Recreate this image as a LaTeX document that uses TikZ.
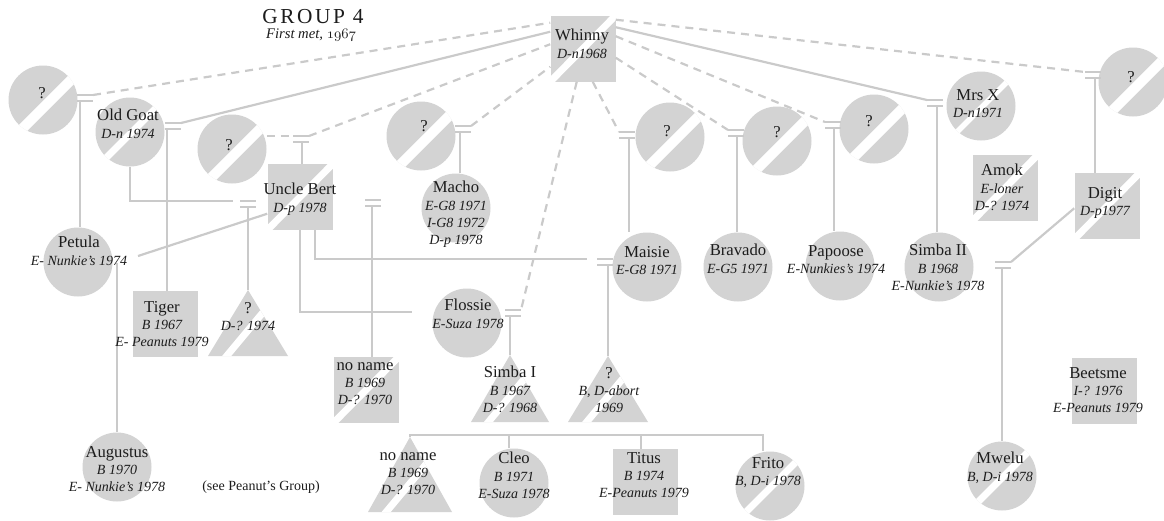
\documentclass[tikz,border=0pt]{standalone}
\usepackage{fontspec}
\setmainfont{Liberation Serif}
\newfontfamily\titlefont{Liberation Serif}[LetterSpace=12]
\definecolor{shp}{RGB}{211,211,211}
\definecolor{lin}{RGB}{202,202,202}
\definecolor{txt}{RGB}{28,28,28}
\newcommand\nm[1]{{\fontsize{12.5}{13}\selectfont\upshape #1}}
\newcommand\osf[1]{{\fontencoding{OML}\fontfamily{cmm}\fontseries{m}\fontshape{it}\selectfont #1}}
\tikzset{
  conn/.style={draw=lin, line width=1.65pt},
  dconn/.style={conn, dash pattern=on 6pt off 4.5pt},
  fem/.style={circle, fill=shp, minimum size=51.75pt, inner sep=0pt},
  mal/.style={rectangle, fill=shp, minimum width=48.75pt, minimum height=49.5pt, inner sep=0pt},
  band/.style={white, line width=5.25pt},
  lbl/.style={anchor=north, align=center, inner sep=0pt, text=txt, font=\fontsize{10.5}{13}\selectfont\itshape},
}
% dead female: name x y bandwidth(pt) offset
\newcommand\FemD[5]{%
  \node[fem] (#1) at (#2,#3) {};
  \begin{scope}
    \clip (#2,#3) circle[radius=26pt];
    \draw[white, line width=#4pt] (#2+#5-50,#3+#5+50) -- (#2+#5+50,#3+#5-50);
  \end{scope}}
% dead male: name x y
\newcommand\MalD[3]{%
  \node[mal] (#1) at (#2,#3) {};
  \begin{scope}
    \clip (#1.south west) rectangle (#1.north east);
    \draw[band] ([shift={(-10,10)}]#1.south west) -- ([shift={(10,-10)}]#1.north east);
  \end{scope}}
% dead, sex unknown: name apexx apexy height halfbase
\newcommand\TriD[5]{%
  \coordinate (#1) at (#2,#3);
  \fill[shp] (#2,#3) -- (#2-#5,#3+#4) -- (#2+#5,#3+#4) -- cycle;
  \begin{scope}
    \clip (#2,#3) -- (#2-#5,#3+#4) -- (#2+#5,#3+#4) -- cycle;
    \draw[band] (#2-3-40,#3+#4*2/3+48) -- (#2-3+40,#3+#4*2/3-48);
  \end{scope}}
% mating symbol: name xleft ytop xdown
\newcommand\marr[4]{%
  \coordinate (#1-l) at (#2,#3);
  \coordinate (#1-r) at (#2+16,#3);
  \coordinate (#1-d) at (#4,#3+6);
  \draw[conn] (#2,#3) -- (#2+16,#3) (#2,#3+6) -- (#2+16,#3+6);}
\begin{document}
\begin{tikzpicture}[x=0.75pt, y=-0.75pt]
\useasboundingbox (0,0) rectangle (1164,521);

% ---------- title
\node[font=\titlefont\fontsize{16}{18}\selectfont, text=txt, inner sep=0pt] (title) at (313,17) {GROUP 4};
\node[font=\fontsize{11}{13}\selectfont\itshape, text=txt, inner sep=0pt] (subtitle) at (311,35) {First met, \osf{1967}};

% ---------- individuals (shapes)
\MalD{whinny}{583}{48.5}
\FemD{q1}{43}{100}{7.5}{4}
\FemD{oldgoat}{130}{132}{5.25}{1}
\FemD{q2}{232}{149}{7.5}{4}
\MalD{ub}{300}{197}
\FemD{q3}{421}{136}{7.5}{4}
\node[fem] (macho) at (456,208) {};
\FemD{q4}{670}{137}{7.5}{4}
\FemD{q5}{777}{141}{7.5}{4}
\FemD{q6}{874}{129}{7.5}{4}
\FemD{mrsx}{981}{106}{4}{1}
\FemD{q7}{1133}{82}{7.5}{4}
\MalD{amok}{1005}{188}
\MalD{digit}{1107}{206}
\node[fem] (petula) at (78,262) {};
\node[mal] (tiger) at (165,324) {};
\TriD{qt}{248}{290}{66}{40}
\MalD{noname1}{366}{390}
\node[fem] (maisie) at (647,267) {};
\node[fem] (bravado) at (738,267) {};
\node[fem] (papoose) at (840,266) {};
\node[fem] (simba2) at (939,267) {};
\node[fem] (flossie) at (467,323) {};
\TriD{s1}{510}{355}{67}{39}
\TriD{qa}{608}{356}{66}{40}
\node[fem] (augustus) at (117,467) {};
\TriD{nn2}{410}{437}{75}{42}
\node[fem] (cleo) at (514,483) {};
\node[mal] (titus) at (645,482) {};
\FemD{frito}{770}{486}{5.25}{1}
\FemD{mwelu}{1002}{476}{5.25}{1}
\node[mal] (beetsme) at (1104,391) {};

% ---------- mating symbols
\marr{m1}{77}{95}{80}
\marr{m2}{165}{123}{167}
\marr{m3}{293}{136}{302}
\marr{m4}{240}{201}{248}
\marr{m6}{597}{259}{608}
\marr{mn}{365}{200}{372}
\marr{m8}{455}{126}{460}
\marr{m9}{505}{310}{510}
\marr{m10}{619}{132}{629}
\marr{m11}{728}{130}{737}
\marr{m12}{825}{122}{834}
\marr{m13}{927}{100}{937}
\marr{m14}{1085}{72}{1095}
\marr{m15}{995}{262}{1002}

\coordinate (pj) at (138,256);
\coordinate (pv) at (117,263);
\coordinate (fj) at (412,312);
\coordinate (kl) at (410,435);
\coordinate (kc) at (509,435);
\coordinate (kt) at (641,435);
\coordinate (kr) at (763,435);

% ---------- connectors
\draw[dconn] (m1-r) -- ([shift={(0,7.5)}]whinny.north west);
\draw[conn] (m1-d) -- (m1-d |- petula.north);
\draw[conn] (m2-r) -- ([shift={(0,16.5)}]whinny.north west);
\draw[conn] (m2-d) -- (m2-d |- tiger.north);
\draw[dconn] (q2.east |- m3-l) -- (m3-l);
\draw[dconn] (m3-r) -- ([shift={(0,29)}]whinny.north west);
\draw[conn] (m3-d) -- (m3-d |- ub.north);
\draw[conn] (oldgoat.south) |- ([xshift=-5.25pt]m4-l);
\draw[conn] (m4-d) -- (m4-d |- qt);
\draw[conn] ([shift={(0,50)}]ub.north west) -- (pj);
\draw[conn] (pv) -- (pv |- augustus.north);
\draw[conn] ([xshift=11.25pt]ub.south) |- ([xshift=-7.5pt]m6-l);
\draw[conn] (m6-d) -- (m6-d |- qa);
\draw[conn] (ub.south) |- (fj);
\draw[conn] (mn-d) -- (mn-d |- noname1.north);
\draw[dconn] (m8-r) -- ([shift={(0,51.5)}]whinny.north west);
\draw[conn] (m8-d) -- (m8-d |- macho.north);
\draw[dconn] ([shift={(26.5,0)}]whinny.south west) -- (m9-r);
\draw[conn] (m9-d) -- (m9-d |- s1);
\draw[dconn] ([shift={(42.5,0)}]whinny.south west) -- (m10-l);
\draw[conn] (m10-d) -- (m10-d |- maisie.north);
\draw[dconn] ([shift={(0,42.5)}]whinny.north east) -- (m11-l);
\draw[conn] (m11-d) -- (m11-d |- bravado.north);
\draw[dconn] ([shift={(0,21)}]whinny.north east) -- (m12-l);
\draw[conn] (m12-d) -- (m12-d |- papoose.north);
\draw[conn] ([shift={(0,12)}]whinny.north east) -- (m13-l);
\draw[conn] (m13-d) -- (m13-d |- simba2.north);
\draw[dconn] ([shift={(0,4.5)}]whinny.north east) -- (m14-l);
\draw[conn] (m14-d) -- (m14-d |- digit.north);
\draw[conn] ([shift={(0,-31)}]digit.south west) -- (m15-r);
\draw[conn] (m15-d) -- (m15-d |- mwelu.north);
\draw[conn] (nn2) -- (kl) -- (kr) -- (kr |- frito.north);
\draw[conn] (kc) -- (kc |- cleo.north);
\draw[conn] (kt) -- (kt |- titus.north);

% ---------- labels
\node[lbl] (q1-t) at (42,87) {\nm{?}};
\node[lbl] (oldgoat-t) at (128,109) {\nm{Old Goat}\\D-n 1974};
\node[lbl] (q2-t) at (229,139) {\nm{?}};
\node[lbl] (whinny-t) at (582,29) {\nm{Whinny}\\D-n1968};
\node[lbl] (ub-t) at (300,183) {\nm{Uncle Bert}\\D-p 1978};
\node[lbl] (q3-t) at (424,120) {\nm{?}};
\node[lbl] (macho-t) at (456,181) {\nm{Macho}\\E-G8 1971\\I-G8 1972\\D-p 1978};
\node[lbl] (q4-t) at (667,125) {\nm{?}};
\node[lbl] (q5-t) at (777,126) {\nm{?}};
\node[lbl] (q6-t) at (869,115) {\nm{?}};
\node[lbl] (mrsx-t) at (978,89) {\nm{Mrs X}\\D-n1971};
\node[lbl] (q7-t) at (1131,71) {\nm{?}};
\node[lbl] (amok-t) at (1002,164) {\nm{Amok}\\E-loner\\D-? 1974};
\node[lbl] (digit-t) at (1105,187) {\nm{Digit}\\D-p1977};
\node[lbl] (petula-t) at (79,236) {\nm{Petula}\\E- Nunkie’s 1974};
\node[lbl] (tiger-t) at (162,301) {\nm{Tiger}\\B 1967\\E- Peanuts 1979};
\node[lbl] (qt-t) at (248,302) {\nm{?}\\D-? 1974};
\node[lbl] (noname1-t) at (365,362) {\nm{no name}\\B 1969\\D-? 1970};
\node[lbl] (maisie-t) at (647,246) {\nm{Maisie}\\E-G8 1971};
\node[lbl] (bravado-t) at (738,244) {\nm{Bravado}\\E-G5 1971};
\node[lbl] (papoose-t) at (836,245) {\nm{Papoose}\\E-Nunkies’s 1974};
\node[lbl] (simba2-t) at (938,244) {\nm{Simba II}\\B 1968\\E-Nunkie’s 1978};
\node[lbl] (flossie-t) at (468,299) {\nm{Flossie}\\E-Suza 1978};
\node[lbl] (s1-t) at (510,366) {\nm{Simba I}\\B 1967\\D-? 1968};
\node[lbl] (qa-t) at (609,367) {\nm{?}\\B, D-abort\\1969};
\node[lbl] (augustus-t) at (117,446) {\nm{Augustus}\\B 1970\\E- Nunkie’s 1978};
\node[text=txt, font=\fontsize{10.5}{13}\selectfont] (see) at (261,487) {(see Peanut’s Group)};
\node[lbl] (nn2-t) at (408,452) {\nm{no name}\\B 1969\\D-? 1970};
\node[lbl] (cleo-t) at (514,452) {\nm{Cleo}\\B 1971\\E-Suza 1978};
\node[lbl] (titus-t) at (644,452) {\nm{Titus}\\B 1974\\E-Peanuts 1979};
\node[lbl] (frito-t) at (768,457) {\nm{Frito}\\B, D-i 1978};
\node[lbl] (mwelu-t) at (1000,452) {\nm{Mwelu}\\B, D-i 1978};
\node[lbl] (beetsme-t) at (1098,367) {\nm{Beetsme}\\I-? 1976\\E-Peanuts 1979};
\end{tikzpicture}
\end{document}
